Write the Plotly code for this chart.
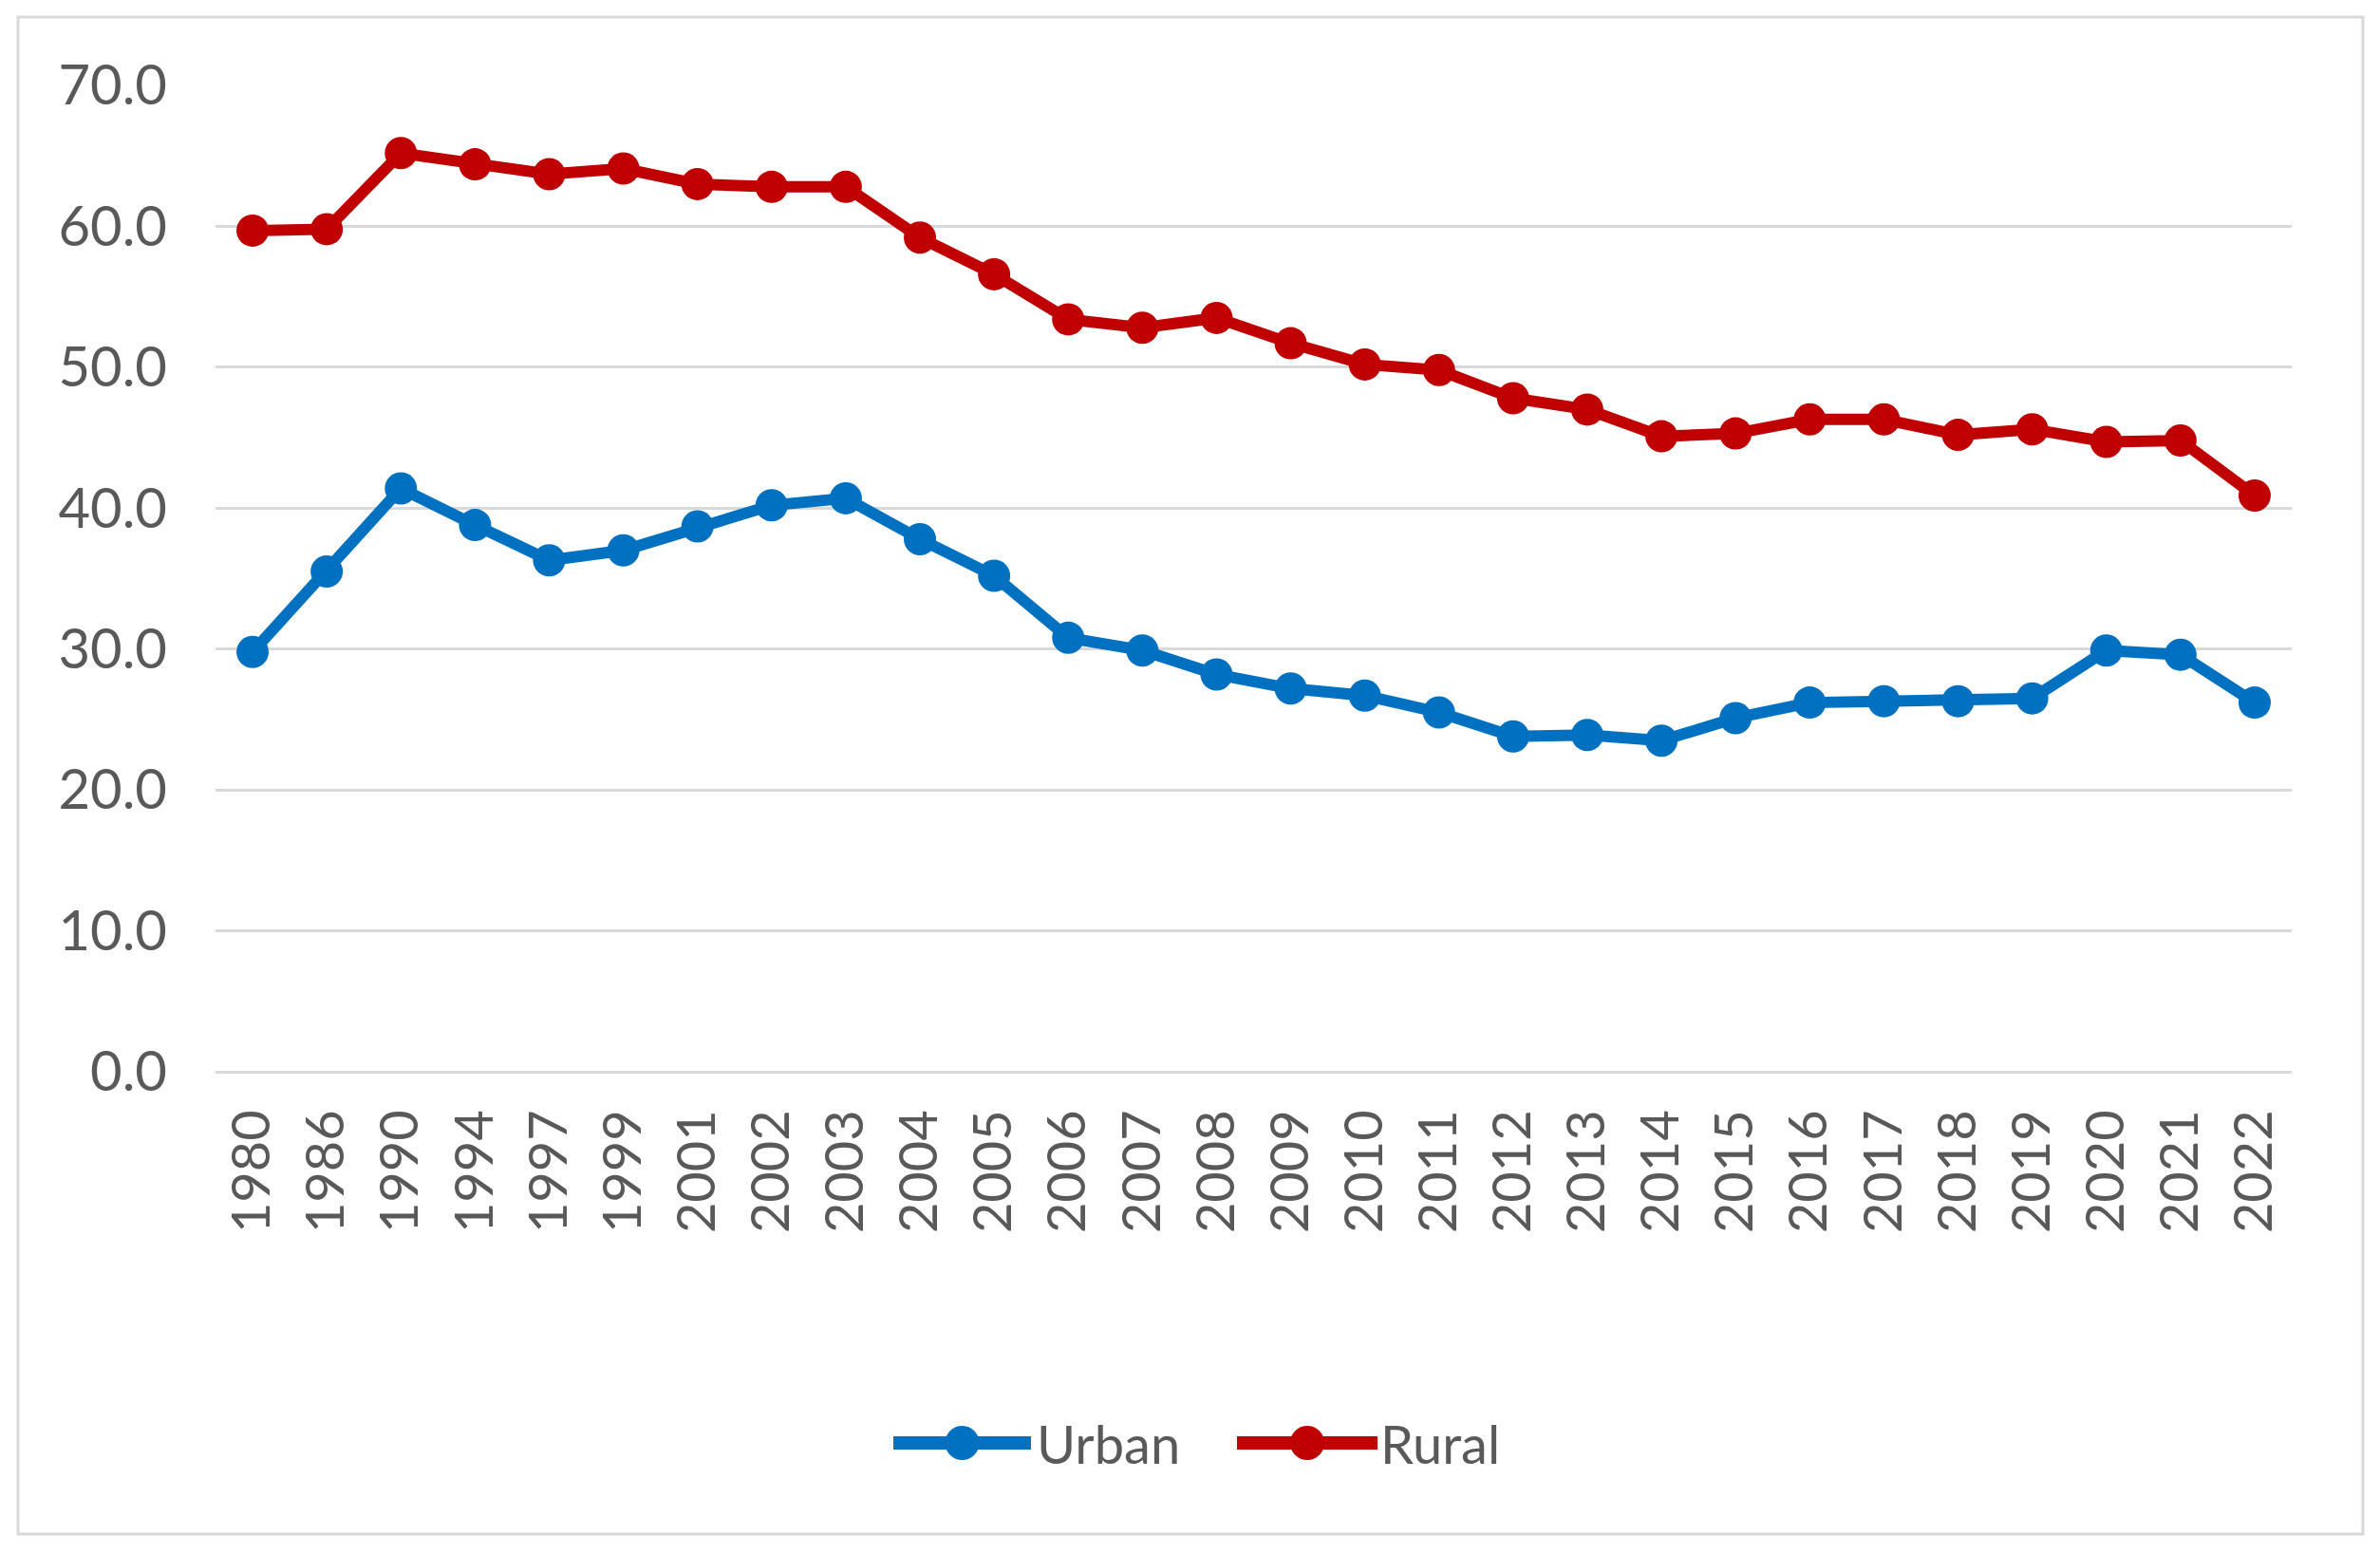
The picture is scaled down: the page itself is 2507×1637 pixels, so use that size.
import plotly.graph_objects as go

years = ["1980", "1986", "1990", "1994", "1997", "1999", "2001", "2002", "2003", "2004",
         "2005", "2006", "2007", "2008", "2009", "2010", "2011", "2012", "2013", "2014",
         "2015", "2016", "2017", "2018", "2019", "2020", "2021", "2022"]
urban = [29.8, 35.5, 41.4, 38.8, 36.3, 37.0, 38.7, 40.2, 40.7, 37.8,
         35.2, 30.8, 29.9, 28.2, 27.2, 26.7, 25.5, 23.8, 23.9, 23.5,
         25.1, 26.2, 26.3, 26.3, 26.5, 29.9, 29.6, 26.2]
rural = [59.7, 59.8, 65.2, 64.4, 63.7, 64.1, 63.0, 62.8, 62.8, 59.2,
         56.6, 53.4, 52.8, 53.5, 51.7, 50.2, 49.8, 47.8, 47.0, 45.1,
         45.3, 46.3, 46.3, 45.2, 45.6, 44.7, 44.8, 40.9]
series_names = ["Urban", "Rural"]
series_colors = ["#0070C0", "#C00000"]
y_ticks = [0, 10, 20, 30, 40, 50, 60, 70]

W, H = 2507, 1637
L, R, T, B = 227, 93, 90, 508
pw, ph = W - L - R, H - T - B

FONT = "Lato, 'Open Sans', sans-serif"
GRAY = "#595959"
LINE_W = 12
MARK = 34


def px(x):
    return (x - L) / pw


def py(y):
    return (H - B - y) / ph


fig = go.Figure()
for name, vals, col in zip(series_names, [urban, rural], series_colors):
    fig.add_trace(go.Scatter(x=years, y=vals, name=name, mode="lines+markers",
                             line=dict(color=col, width=LINE_W),
                             marker=dict(color=col, size=MARK),
                             showlegend=False))

# outer chart frame
fig.add_shape(type="rect", xref="paper", yref="paper",
              x0=px(19), x1=px(2489), y0=py(1616), y1=py(18),
              line=dict(color="#D9D9D9", width=3), fillcolor="rgba(0,0,0,0)", layer="below")

# legend drawn as keys + text
leg_y = 1520
leg_keys = [(941, 1086, 1090), (1303, 1451, 1452)]
for (x0, x1, xt), name, col in zip(leg_keys, series_names, series_colors):
    fig.add_shape(type="line", xref="paper", yref="paper",
                  x0=px(x0), x1=px(x1), y0=py(leg_y), y1=py(leg_y),
                  line=dict(color=col, width=LINE_W + 2))
    fig.add_shape(type="circle", xref="paper", yref="paper",
                  xsizemode="pixel", ysizemode="pixel",
                  xanchor=px((x0 + x1) / 2), yanchor=py(leg_y),
                  x0=-18, x1=18, y0=-18, y1=18,
                  line=dict(color=col, width=0), fillcolor=col)
    fig.add_annotation(text=name, xref="paper", yref="paper",
                       x=px(xt), y=py(leg_y), xanchor="left", yanchor="middle",
                       showarrow=False, font=dict(family=FONT, size=56, color=GRAY))

fig.update_layout(
    width=W, height=H,
    margin=dict(l=L, r=R, t=T, b=B),
    paper_bgcolor="white", plot_bgcolor="white",
    font=dict(family=FONT, color=GRAY, size=58),
    showlegend=False,
    xaxis=dict(type="category", range=[-0.5, len(years) - 0.5], tickangle=-90,
               showgrid=False, showline=False, ticks="",
               tickfont=dict(size=56, color=GRAY), ticklabelstandoff=28),
    yaxis=dict(range=[0, 70], tickvals=y_ticks, tickformat=".1f", showgrid=True,
               gridcolor="#D9D9D9", gridwidth=3, zeroline=True, zerolinecolor="#D9D9D9",
               zerolinewidth=3, showline=False, ticks="",
               tickfont=dict(size=58, color=GRAY), ticklabelstandoff=50),
)

fig.write_html("out.html", config={"displayModeBar": False},
               post_script="document.body.style.margin='0';")
